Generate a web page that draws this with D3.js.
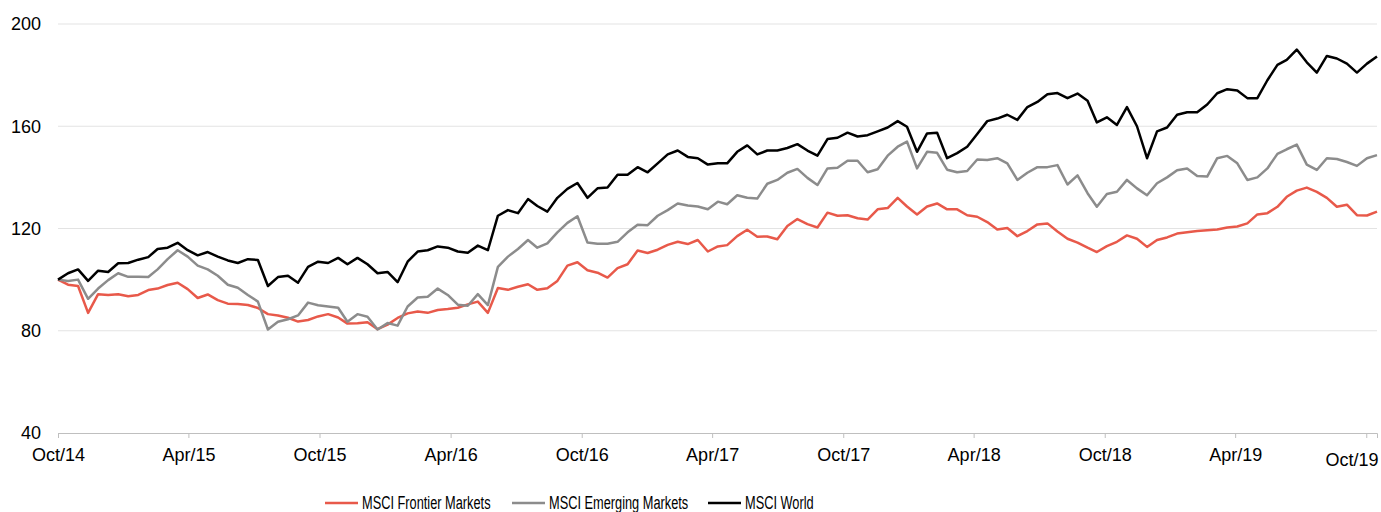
<!DOCTYPE html>
<html>
<head>
<meta charset="utf-8">
<script src="https://cdn.jsdelivr.net/npm/d3@7"></script>
<style>
  html, body { margin: 0; padding: 0; background: #fff; }
  svg { display: block; font-family: "Liberation Sans", Arial, sans-serif; }
</style>
</head>
<body>
<div id="chart"></div>
<script>
// Index levels (start = 100), sampled about every two weeks, Oct 2014 - Oct 2019
const seriesNames = ["MSCI Frontier Markets", "MSCI Emerging Markets", "MSCI World"];

const frontier = [
  100, 98, 97.5, 87, 94.3, 94, 94.3, 93.5, 94, 95.9,
  96.5, 97.9, 98.8, 96.3, 92.8, 94.2, 92, 90.6, 90.5, 90.1,
  88.9, 86.5, 86, 85.1, 83.6, 84.2, 85.6, 86.5, 85.2, 82.8,
  82.9, 83.3, 80.6, 82.4, 85, 86.8, 87.5, 87, 88.1, 88.5,
  89, 90.3, 91.4, 87, 96.7, 96, 97.2, 98.2, 96, 96.6,
  99.5, 105.5, 106.8, 103.7, 102.7, 100.8, 104.5, 106, 111.4, 110.4,
  111.7, 113.6, 114.8, 113.9, 115.5, 111, 113, 113.5, 117, 119.5,
  116.8, 116.9, 115.8, 121, 123.7, 121.7, 120.4, 126.2, 125, 125.2,
  124, 123.5, 127.5, 128, 132, 128.6, 125.5, 128.6, 129.8, 127.5,
  127.5, 125.2, 124.6, 122.5, 119.6, 120.2, 117, 119, 121.6, 122,
  118.8, 116, 114.5, 112.5, 110.8, 113.1, 114.8, 117.3, 116, 112.8,
  115.5, 116.5, 118, 118.5, 119, 119.3, 119.6, 120.4, 120.8, 122,
  125.5, 126, 128.5, 132.4, 134.8, 136, 134.3, 132, 128.5, 129.3,
  125.2, 125.1, 126.6
];

const emerging = [
  100, 99.5, 100, 92.5, 96.5, 99.8, 102.5, 101.1, 101.1, 101,
  104, 108, 111.5, 109, 105.5, 104, 101.5, 98, 96.8, 94,
  91.4, 80.5, 83.5, 84.5, 86, 91, 90, 89.5, 89, 83.5,
  86.5, 85.5, 80.5, 83, 82, 89.5, 93, 93.3, 96.5, 94,
  90.2, 89.8, 94.3, 90, 105, 109, 112, 115.5, 112.5, 114.2,
  118.5, 122.2, 124.8, 114.5, 114, 114, 114.8, 118.5, 121.5, 121.3,
  125, 127.2, 129.8, 129, 128.6, 127.5, 130.5, 129.5, 133, 132,
  131.7, 137.5, 139, 141.8, 143.3, 139.8, 137, 143.5, 143.8, 146.5,
  146.5, 142, 143.2, 148.5, 152, 154, 143.5, 150, 149.6, 143,
  142, 142.5, 147, 146.8, 147.5, 145.5, 139, 141.8, 144, 144,
  144.8, 137.2, 140.8, 133.8, 128.5, 133.5, 134.4, 139, 135.7, 133,
  137.7, 140, 142.8, 143.5, 140.5, 140.3, 147.5, 148.4, 145.5, 139,
  140, 143.5, 149.2, 151, 152.8, 145, 142.9, 147.5, 147.2, 146,
  144.5, 147.5, 148.7
];

const world = [
  100, 102.5, 104, 99.5, 103.5, 103, 106.4, 106.5, 107.8, 108.8,
  112, 112.5, 114.4, 111.5, 109.5, 110.8, 109, 107.5, 106.5, 108,
  107.7, 97.5, 101, 101.5, 98.8, 105, 107, 106.5, 108.5, 106,
  108.5, 106, 102.5, 103, 99, 107, 111, 111.5, 113, 112.5,
  111, 110.5, 113.3, 111.5, 125, 127.2, 126, 131.5, 128.8, 126.6,
  132, 135.5, 137.8, 132, 135.7, 136, 141, 141, 144, 142,
  145.5, 149, 150.5, 148, 147.5, 145, 145.5, 145.5, 150, 152.5,
  149, 150.5, 150.5, 151.5, 153, 150.5, 148.5, 155, 155.5, 157.5,
  156, 156.5, 158, 159.5, 162, 159.8, 150, 157.2, 157.5, 147.5,
  149.5, 152, 157, 162, 163, 164.5, 162.5, 167.5, 169.5, 172.5,
  173, 171, 172.8, 170, 161.5, 163.5, 160.5, 167.5, 160, 147.5,
  158, 159.5, 164.5, 165.5, 165.5, 168.5, 172.9, 174.5, 174, 171,
  171, 178, 184, 186, 190, 185, 181, 187.5, 186.5, 184.5,
  181, 184.5, 187.3
];

const firstDate = "2014-10-01";
const lastDate = "2019-10-16";

const xTickDates = ["2014-10-01", "2015-04-01", "2015-10-01", "2016-04-01", "2016-10-01",
  "2017-04-01", "2017-10-01", "2018-04-01", "2018-10-01", "2019-04-01", "2019-10-01"];
const xTickLabels = ["Oct/14", "Apr/15", "Oct/15", "Apr/16", "Oct/16", "Apr/17",
  "Oct/17", "Apr/18", "Oct/18", "Apr/19", "Oct/19"];
const yTicks = [40, 80, 120, 160, 200];

const colors = ["#e8594a", "#8c8c8c", "#000000"];

// Layout
const W = 1381, H = 512;
const plot = { left: 58, right: 1377, top: 24, bottom: 433 };
const fontFamily = "'Liberation Sans', Arial, sans-serif";

const parse = d3.utcParse("%Y-%m-%d");
const start = parse(firstDate), end = parse(lastDate);
const totalDays = d3.utcDay.count(start, end);
const dates = world.map((_, i) => d3.utcDay.offset(start, Math.round(i * totalDays / (world.length - 1))));

const x = d3.scaleUtc().domain([start, end]).range([plot.left, plot.right]);
const y = d3.scaleLinear().domain([40, 200]).range([plot.bottom, plot.top]);

const svg = d3.select("#chart").append("svg").attr("width", W).attr("height", H);

// Gridlines
svg.append("g")
  .selectAll("line")
  .data(yTicks.filter(t => t > 40))
  .join("line")
  .attr("x1", plot.left).attr("x2", plot.right)
  .attr("y1", d => y(d)).attr("y2", d => y(d))
  .attr("stroke", "#e3e3e3").attr("stroke-width", 1);

// Y axis labels
const yAxis = svg.append("g")
  .attr("transform", `translate(${plot.left},0)`)
  .call(d3.axisLeft(y).tickValues(yTicks).tickSize(0).tickPadding(17));
yAxis.select(".domain").remove();
yAxis.selectAll("text").attr("font-size", 18).attr("fill", "#000").attr("font-family", fontFamily);

// X axis
const tickDates = xTickDates.map(parse);
const xAxis = svg.append("g")
  .attr("transform", `translate(0,${plot.bottom})`)
  .call(d3.axisBottom(x).tickValues(tickDates).tickSizeOuter(0).tickSize(5).tickPadding(10)
    .tickFormat((d, i) => xTickLabels[i]));
xAxis.select(".domain").attr("stroke", "#bfbfbf");
xAxis.selectAll(".tick line").attr("stroke", "#bfbfbf");
xAxis.selectAll("text").attr("font-size", 18).attr("fill", "#000").attr("font-family", fontFamily);
// last label sits lower and is pulled in against the right edge
xAxis.selectAll(".tick").filter((d, i) => i === xTickLabels.length - 1)
  .select("text").attr("y", 20).attr("text-anchor", "end").attr("x", W - 3 - x(tickDates[tickDates.length - 1]));

// Lines
const line = d3.line()
  .x((d, i) => x(dates[i]))
  .y(d => y(d));

[frontier, emerging, world].forEach((values, k) => {
  svg.append("path")
    .datum(values)
    .attr("d", line)
    .attr("fill", "none")
    .attr("stroke", colors[k])
    .attr("stroke-width", 2.5)
    .attr("stroke-linejoin", "round");
});

// Legend
const legendX = [325, 512, 708];
const legend = svg.append("g").attr("transform", "translate(0,503)");
seriesNames.forEach((name, k) => {
  const g = legend.append("g").attr("transform", `translate(${legendX[k]},0)`);
  g.append("line").attr("x1", 0).attr("x2", 33).attr("y1", 0).attr("y2", 0)
    .attr("stroke", colors[k]).attr("stroke-width", 2.5);
  const t = g.append("text").attr("x", 37).attr("y", 5.5)
    .attr("font-size", 18).attr("fill", "#000").attr("font-family", fontFamily).text(name);
  const w = t.node().getComputedTextLength();
  t.attr("textLength", w * 0.71).attr("lengthAdjust", "spacingAndGlyphs");
});
</script>
</body>
</html>
